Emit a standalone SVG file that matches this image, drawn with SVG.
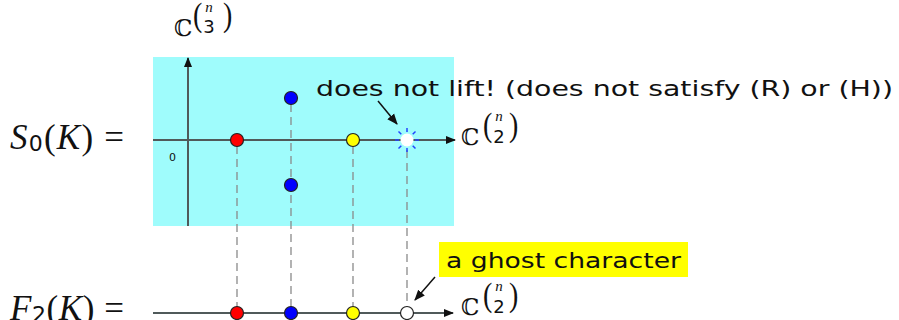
<svg xmlns="http://www.w3.org/2000/svg" width="899" height="320" viewBox="0 0 899 320">
<defs>
<style>
.ax{stroke:#505a5a;stroke-width:2;fill:none}
.dash{stroke:#8a8a8a;stroke-width:1.3;stroke-dasharray:8,5;fill:none}
.dot{stroke:#222;stroke-width:1.2}
.math{font-family:"DejaVu Serif","Liberation Serif",serif;fill:#111;font-size:23px}
.par{font-family:"Liberation Serif","DejaVu Serif",serif;fill:#111;font-size:28px}
.n{font-family:"Liberation Serif","DejaVu Serif",serif;font-style:italic;fill:#111;font-size:15px;text-anchor:middle}
.k{font-family:"DejaVu Sans","Liberation Sans",sans-serif;fill:#111;font-size:18px;text-anchor:middle}
.it{font-family:"Liberation Serif","DejaVu Serif",serif;font-style:italic;fill:#111}
.sans{font-family:"DejaVu Sans","Liberation Sans",sans-serif;fill:#111}
.ray{stroke:#2244ff;stroke-width:1.5}
.ptr{stroke:#111;stroke-width:1.5;fill:none}
</style>
<marker id="ah" viewBox="0 0 10 10" refX="9" refY="5" markerWidth="10" markerHeight="10" markerUnits="userSpaceOnUse" orient="auto">
<path d="M0,1 L10,5 L0,9 z" fill="#111"/>
</marker>
<marker id="ap" viewBox="0 0 10 10" refX="9" refY="5" markerWidth="11" markerHeight="11" markerUnits="userSpaceOnUse" orient="auto">
<path d="M0,1 L10,5 L0,9 z" fill="#111"/>
</marker>
</defs>

<rect id="panel" x="153" y="57" width="301" height="169" fill="#9ffcfc"/>

<g id="connectors">
<line class="dash" x1="237" y1="146" x2="237" y2="307"/>
<line class="dash" x1="291" y1="104" x2="291" y2="307"/>
<line class="dash" x1="353" y1="146" x2="353" y2="307"/>
<line class="dash" x1="407" y1="150" x2="407" y2="307"/>
<line class="ax" x1="188" y1="226" x2="188" y2="58" marker-end="url(#ah)"/>
<line class="ax" x1="153" y1="140" x2="455" y2="140" marker-end="url(#ah)"/>
<line class="ax" x1="153" y1="313" x2="453" y2="313" marker-end="url(#ah)"/>
<line class="ptr" x1="378" y1="101" x2="397" y2="124" marker-end="url(#ap)"/>
<line class="ptr" x1="435" y1="277" x2="415" y2="300" marker-end="url(#ap)"/>
</g>

<text x="169" y="161" class="sans" font-size="11">0</text>

<g id="top-dots">
<circle class="dot" cx="237" cy="140" r="6.5" fill="#ff0000"/>
<circle class="dot" cx="291" cy="98" r="6.5" fill="#0000ff"/>
<circle class="dot" cx="291" cy="185" r="6.5" fill="#0000ff"/>
<circle class="dot" cx="353" cy="140" r="6.5" fill="#ffff00"/>
</g>

<g id="no-lift">
<g transform="translate(407,140)">
<line class="ray" x1="8" y1="0" x2="12" y2="0"/>
<line class="ray" x1="-8" y1="0" x2="-12" y2="0"/>
<line class="ray" x1="0" y1="8" x2="0" y2="12"/>
<line class="ray" x1="0" y1="-8" x2="0" y2="-12"/>
<line class="ray" x1="5.7" y1="5.7" x2="8.5" y2="8.5"/>
<line class="ray" x1="-5.7" y1="5.7" x2="-8.5" y2="8.5"/>
<line class="ray" x1="5.7" y1="-5.7" x2="8.5" y2="-8.5"/>
<line class="ray" x1="-5.7" y1="-5.7" x2="-8.5" y2="-8.5"/>
<circle cx="0" cy="0" r="6.5" fill="#ffffff"/>
</g>
</g>

<g id="bottom-dots">
<circle class="dot" cx="237" cy="313" r="6.5" fill="#ff0000"/>
<circle class="dot" cx="291" cy="313" r="6.5" fill="#0000ff"/>
<circle class="dot" cx="353" cy="313" r="6.5" fill="#ffff00"/>
<circle class="dot" cx="407" cy="313" r="6.5" fill="#ffffff"/>
</g>

<g id="label-S0">
<text x="10" y="149" class="it" font-size="35" textLength="114" lengthAdjust="spacing">S<tspan font-style="normal" font-family="DejaVu Sans, sans-serif" font-size="22" dy="2">0</tspan><tspan font-style="normal" dy="-2">(</tspan>K<tspan font-style="normal">) =</tspan></text>
</g>
<g id="label-F2">
<text x="10" y="320" class="it" font-size="35" textLength="114" lengthAdjust="spacing">F<tspan font-style="normal" font-family="DejaVu Sans, sans-serif" font-size="22" dy="2">2</tspan><tspan font-style="normal" dy="-2">(</tspan>K<tspan font-style="normal">) =</tspan></text>
</g>

<g id="C3">
<text x="174" y="36" class="math">ℂ</text>
<text class="par" transform="translate(193,26) scale(1,1.2)">(</text>
<text class="par" transform="translate(223,26) scale(1,1.2)">)</text>
<text x="209" y="12" class="n">n</text>
<text x="209" y="33" class="k">3</text>
</g>

<g id="C2-top">
<text x="461" y="145" class="math">ℂ</text>
<text class="par" transform="translate(483,136) scale(1,1.2)">(</text>
<text class="par" transform="translate(509,136) scale(1,1.2)">)</text>
<text x="499" y="121" class="n">n</text>
<text x="499" y="143" class="k">2</text>
</g>

<g id="C2-bottom">
<text x="461" y="315" class="math">ℂ</text>
<text class="par" transform="translate(483,306) scale(1,1.2)">(</text>
<text class="par" transform="translate(509,306) scale(1,1.2)">)</text>
<text x="499" y="291" class="n">n</text>
<text x="499" y="313" class="k">2</text>
</g>

<g id="note-lift">
<text x="316" y="96" class="sans" font-size="22" textLength="577" lengthAdjust="spacingAndGlyphs">does not lift! (does not satisfy (R) or (H))</text>
</g>

<g id="note-ghost">
<rect x="439" y="242" width="249" height="35" fill="#ffff00"/>
<text x="446" y="268" class="sans" font-size="22" textLength="235" lengthAdjust="spacingAndGlyphs">a ghost character</text>
</g>
</svg>
